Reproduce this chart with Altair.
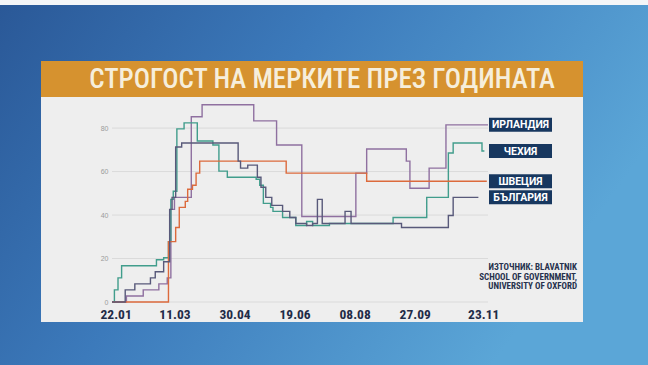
import altair as alt
import pandas as pd

# Stringency index, step series: date each level starts, index value
ireland_dates = ["2020-01-19", "2020-01-31", "2020-02-14", "2020-02-27", "2020-03-05",
                 "2020-03-08", "2020-03-11", "2020-03-25", "2020-04-03", "2020-05-16",
                 "2020-06-04", "2020-06-25", "2020-08-09", "2020-08-18", "2020-09-20",
                 "2020-09-23", "2020-10-09", "2020-10-23", "2020-11-27"]
ireland_values = [0, 2.78, 5.56, 8.33, 11.11, 42.59, 48.15, 85.19, 90.74, 83.33,
                  72.22, 39.35, 59.26, 70.37, 64.81, 52.31, 61.57, 81.48, 81.48]

czech_dates = ["2020-01-19", "2020-01-21", "2020-01-24", "2020-01-27", "2020-02-25",
               "2020-03-02", "2020-03-06", "2020-03-08", "2020-03-10", "2020-03-13",
               "2020-03-19", "2020-03-30", "2020-04-12", "2020-04-17", "2020-04-24",
               "2020-05-18", "2020-05-21", "2020-05-24", "2020-05-30", "2020-06-01",
               "2020-06-09", "2020-06-20", "2020-06-29", "2020-07-04", "2020-07-18",
               "2020-09-09", "2020-10-07", "2020-10-25", "2020-10-29", "2020-11-22",
               "2020-11-24"]
czech_values = [0, 5.56, 11.11, 16.67, 19.44, 20.37, 27.78, 47.22, 50.93, 79.63,
                82.41, 74.07, 72.22, 60.19, 57.41, 56.48, 53.70, 45.37, 43.52, 41.67,
                38.89, 35.19, 37.04, 35.19, 36.11, 38.89, 48.15, 68.52, 73.15, 69.44,
                69.44]

sweden_dates = ["2020-01-19", "2020-03-06", "2020-03-12", "2020-03-15", "2020-03-20",
                "2020-03-22", "2020-03-26", "2020-03-29", "2020-04-01", "2020-06-12",
                "2020-08-18", "2020-11-26"]
sweden_values = [0, 27.78, 34.26, 43.52, 46.30, 51.85, 53.70, 59.26, 64.81, 59.26,
                 55.56, 55.56]

bulgaria_dates = ["2020-01-19", "2020-01-30", "2020-02-07", "2020-02-20", "2020-02-24",
                  "2020-03-02", "2020-03-07", "2020-03-09", "2020-03-12", "2020-03-17",
                  "2020-05-03", "2020-05-05", "2020-05-11", "2020-05-19", "2020-05-22",
                  "2020-05-26", "2020-05-31", "2020-06-09", "2020-06-15", "2020-06-20",
                  "2020-06-29", "2020-07-04", "2020-07-08", "2020-07-12", "2020-07-31",
                  "2020-08-05", "2020-09-16", "2020-10-25", "2020-10-29", "2020-11-19"]
bulgaria_values = [0, 5.56, 8.33, 11.11, 13.89, 18.52, 42.59, 48.15, 71.30, 73.15,
                   64.81, 61.57, 62.96, 57.41, 52.78, 48.15, 44.44, 41.67, 38.89, 36.11,
                   35.19, 36.11, 47.22, 36.11, 41.67, 36.11, 34.26, 39.81, 48.15, 48.15]

countries = ["ИРЛАНДИЯ", "ЧЕХИЯ", "ШВЕЦИЯ", "БЪЛГАРИЯ"]
country_colors = ["#8f70a0", "#419d8c", "#dc6a3c", "#58597a"]

y_ticks = [0, 20, 40, 60, 80]
x_tick_dates = [(2020, 1, 22), (2020, 3, 11), (2020, 4, 30), (2020, 6, 19),
                (2020, 8, 8), (2020, 9, 27), (2020, 11, 23)]

title_text = "СТРОГОСТ НА МЕРКИТЕ ПРЕЗ ГОДИНАТА"
source_lines = ["ИЗТОЧНИК: BLAVATNIK", "SCHOOL OF GOVERNMENT,", "UNIVERSITY OF OXFORD"]

# ---- tables ----
frames = []
for name, d, v in zip(countries,
                      [ireland_dates, czech_dates, sweden_dates, bulgaria_dates],
                      [ireland_values, czech_values, sweden_values, bulgaria_values]):
    frames.append(pd.DataFrame({"date": d, "value": v, "country": name}))
lines_df = pd.concat(frames, ignore_index=True)
lines_df["date"] = pd.to_datetime(lines_df["date"]).dt.strftime("%Y/%m/%d")

ends_df = lines_df.groupby("country", sort=False).tail(1).reset_index(drop=True)
grid_df = pd.DataFrame({"value": y_ticks})

W, H = 376, 200
PAD_L, PAD_T = 112, 102
CANVAS_W, CANVAS_H = 648, 365
cond_font = "Roboto Condensed, Liberation Sans Narrow, DejaVu Sans Condensed, Roboto"

one = alt.Data(values=[{}])

x_scale = alt.Scale(domain=[alt.DateTime(year=2020, month=1, date=19),
                            alt.DateTime(year=2020, month=11, date=27)])
y_scale = alt.Scale(domain=[0, 92])

# backdrop
backdrop = alt.Chart(one).mark_rect(
    color=alt.Gradient(
        gradient="linear", x1=0, y1=0, x2=1, y2=0.4,
        stops=[alt.GradientStop(color="#2a5897", offset=0),
               alt.GradientStop(color="#3c7abb", offset=0.45),
               alt.GradientStop(color="#5ba6d7", offset=1)])
).encode(x=alt.value(-PAD_L), x2=alt.value(CANVAS_W - PAD_L),
         y=alt.value(-PAD_T), y2=alt.value(CANVAS_H - PAD_T))

top_strip = alt.Chart(one).mark_rect(color="#f4f6f8").encode(
    x=alt.value(-PAD_L), x2=alt.value(CANVAS_W - PAD_L),
    y=alt.value(-PAD_T), y2=alt.value(5 - PAD_T))

panel = alt.Chart(one).mark_rect(color="#eeeeee").encode(
    x=alt.value(41 - PAD_L), x2=alt.value(583 - PAD_L),
    y=alt.value(97 - PAD_T), y2=alt.value(322 - PAD_T))

banner = alt.Chart(one).mark_rect(color="#d6922f").encode(
    x=alt.value(41 - PAD_L), x2=alt.value(583 - PAD_L),
    y=alt.value(61 - PAD_T), y2=alt.value(97 - PAD_T))

title = alt.Chart(one).mark_text(
    text=title_text, font=cond_font, fontSize=27, fontWeight=500,
    color="#f6eedb", align="center", baseline="middle"
).encode(x=alt.value(322 - PAD_L), y=alt.value(80 - PAD_T))

grid = alt.Chart(grid_df).mark_rule(color="#dadada", strokeWidth=1).encode(
    y=alt.Y("value:Q", scale=y_scale))

x_axis = alt.Axis(
    values=[alt.DateTime(year=a, month=b, date=c) for a, b, c in x_tick_dates],
    format="%d.%m", title=None, domain=False, ticks=False, tickSize=0, grid=False,
    labelFont=cond_font, labelFontSize=13.5, labelFontWeight="bold",
    labelColor="#1f2b47", labelPadding=5, zindex=1)
y_axis = alt.Axis(
    values=y_ticks, title=None, domain=False, ticks=False, tickSize=0, grid=False,
    labelFontSize=7, labelColor="#9b9b9b", labelPadding=4, zindex=1)

lines = alt.Chart(lines_df).mark_line(interpolate="step-after", strokeWidth=1.4).encode(
    x=alt.X("date:T", scale=x_scale, axis=x_axis),
    y=alt.Y("value:Q", scale=y_scale, axis=y_axis),
    color=alt.Color("country:N", scale=alt.Scale(domain=countries, range=country_colors),
                    legend=None),
    detail="country:N")

label_boxes = alt.Chart(ends_df).mark_rule(
    color="#17375f", strokeWidth=14, strokeCap="butt"
).encode(x=alt.value(489 - PAD_L), x2=alt.value(552 - PAD_L),
         y=alt.Y("value:Q", scale=y_scale))

label_text = alt.Chart(ends_df).mark_text(
    font="Roboto", fontSize=10.5, fontWeight="bold", color="#ffffff",
    align="center", baseline="middle", dy=0.5
).encode(x=alt.value(520.5 - PAD_L), y=alt.Y("value:Q", scale=y_scale),
         text="country:N")

source = alt.Chart(alt.Data(values=[{"t": "\n".join(source_lines)}])).mark_text(
    font=cond_font, fontSize=9, fontWeight="bold", color="#27324d",
    align="right", baseline="top", lineBreak="\n", lineHeight=9.5
).encode(x=alt.value(577 - PAD_L), y=alt.value(263 - PAD_T), text="t:N")

chart = alt.layer(
    backdrop, top_strip, panel, banner, title, grid, lines, label_boxes, label_text,
    source
).properties(
    width=W, height=H,
    autosize=alt.AutoSizeParams(type="none"),
    padding={"left": PAD_L, "top": PAD_T, "right": CANVAS_W - PAD_L - W,
             "bottom": CANVAS_H - PAD_T - H},
    background="#3a74b3",
).configure_view(strokeOpacity=0)

chart.save("out.html", embed_options={"renderer": "svg", "actions": False})
